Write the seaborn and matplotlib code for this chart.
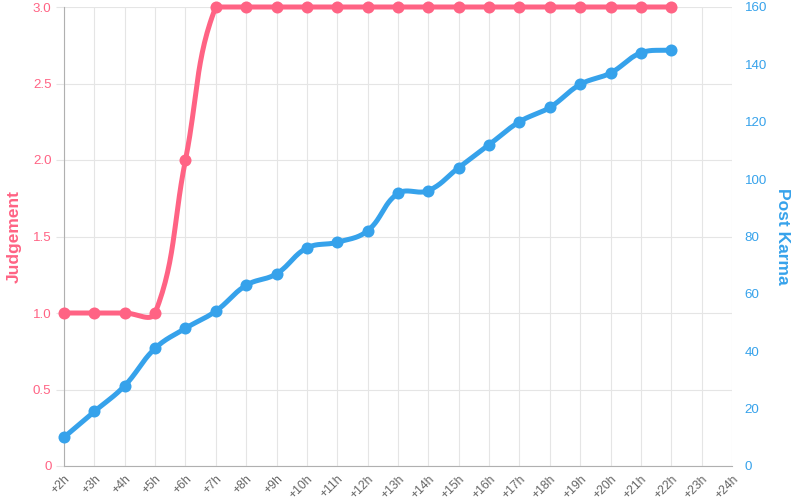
import numpy as np
import pandas as pd
import matplotlib
matplotlib.use("Agg")
import matplotlib.pyplot as plt
import seaborn as sns

labels = [f"+{h}h" for h in range(2, 25)]
judgement = [1, 1, 1, 1, 2, 3, 3, 3, 3, 3, 3, 3, 3, 3, 3, 3, 3, 3, 3, 3, 3]
karma = [10, 19, 28, 41, 48, 54, 63, 67, 76, 78, 82, 95, 96, 104, 112, 120, 125, 133, 137, 144, 145]

PINK = "#ff6384"
BLUE = "#36a2eb"
GRID = "#e5e5e5"
AXIS = "#b0b0b0"

sns.set_style("white")
plt.rcParams["font.family"] = ["Liberation Sans", "DejaVu Sans"]

fig = plt.figure(figsize=(8, 5), dpi=100)
ax = fig.add_axes([0.08, 0.068, 0.835, 0.918])
ax2 = ax.twinx()

XMAX = len(labels) - 1
W_PX, H_PX = 668.0, 459.0


def spline(xs, ys, ymin, ymax, tension=0.4, n=30):
    # Chart.js-style bezier in pixel space
    px = np.array(xs, float) / XMAX * W_PX
    py = (np.array(ys, float) - ymin) / (ymax - ymin) * H_PX
    m = len(px)
    cps = []
    for i in range(m):
        p0 = (px[max(i - 1, 0)], py[max(i - 1, 0)])
        p1 = (px[i], py[i])
        p2 = (px[min(i + 1, m - 1)], py[min(i + 1, m - 1)])
        d01 = np.hypot(p1[0] - p0[0], p1[1] - p0[1])
        d12 = np.hypot(p2[0] - p1[0], p2[1] - p1[1])
        s01 = d01 / (d01 + d12) if d01 + d12 else 0
        s12 = d12 / (d01 + d12) if d01 + d12 else 0
        fa, fb = tension * s01, tension * s12
        prev = [p1[0] - fa * (p2[0] - p0[0]), p1[1] - fa * (p2[1] - p0[1])]
        nxt = [p1[0] + fb * (p2[0] - p0[0]), p1[1] + fb * (p2[1] - p0[1])]
        for c in (prev, nxt):
            c[0] = min(max(c[0], 0), W_PX)
            c[1] = min(max(c[1], 0), H_PX)
        cps.append((prev, nxt))
    t = np.linspace(0, 1, n)[:, None]
    segs = []
    for i in range(m - 1):
        P0 = np.array([px[i], py[i]])
        P1 = np.array(cps[i][1])
        P2 = np.array(cps[i + 1][0])
        P3 = np.array([px[i + 1], py[i + 1]])
        b = ((1 - t) ** 3) * P0 + 3 * ((1 - t) ** 2) * t * P1 + 3 * (1 - t) * t ** 2 * P2 + t ** 3 * P3
        segs.append(b if i == 0 else b[1:])
    c = np.vstack(segs)
    return c[:, 0] / W_PX * XMAX, c[:, 1] / H_PX * (ymax - ymin) + ymin


xs = np.arange(len(judgement))
jx, jy = spline(xs, judgement, 0, 3)
kx, ky = spline(xs, karma, 0, 160)

df_j = pd.DataFrame({"x": jx, "y": jy})
df_k = pd.DataFrame({"x": kx, "y": ky})

sns.lineplot(data=df_j, x="x", y="y", ax=ax, color=PINK, lw=3.6, sort=False, estimator=None, clip_on=False)
sns.scatterplot(x=xs, y=judgement, ax=ax, color=PINK, s=75, edgecolor=PINK, linewidth=0, clip_on=False, zorder=5)
sns.lineplot(data=df_k, x="x", y="y", ax=ax2, color=BLUE, lw=3.6, sort=False, estimator=None, clip_on=False)
sns.scatterplot(x=xs, y=karma, ax=ax2, color=BLUE, s=75, edgecolor=BLUE, linewidth=0, clip_on=False, zorder=5)

ax.set_xlim(0, XMAX)
ax.set_ylim(0, 3)
ax2.set_ylim(0, 160)

ax.set_xticks(range(len(labels)))
ax.set_xticklabels(labels, rotation=45, ha="right", va="top", rotation_mode="anchor", color="#666666", fontsize=8.8)
ax.set_yticks(np.arange(0, 3.01, 0.5))
ax.set_yticklabels([f"{v:.1f}" if v else "0" for v in np.arange(0, 3.01, 0.5)], color=PINK, fontsize=9.6)
ax2.set_yticks(range(0, 161, 20))
ax2.set_yticklabels([str(v) for v in range(0, 161, 20)], color=BLUE, fontsize=9.6)

ax.grid(True, color=GRID, lw=0.8)
ax.set_axisbelow(True)
ax2.grid(False)

ax.tick_params(axis="y", length=6, color=GRID, pad=3)
ax.tick_params(axis="x", length=4, color=GRID, pad=1)
ax2.tick_params(axis="y", length=0, pad=9)

for s in ["top", "right"]:
    ax.spines[s].set_visible(False)
    ax2.spines[s].set_visible(False)
ax.spines["left"].set_color(AXIS)
ax.spines["bottom"].set_color(AXIS)
ax2.spines["left"].set_visible(False)
ax2.spines["bottom"].set_visible(False)

ax.set_xlabel("")
ax.set_ylabel("Judgement", color=PINK, fontsize=12.5, fontweight="bold", labelpad=8)
ax2.set_ylabel("Post Karma", color=BLUE, fontsize=12.5, fontweight="bold", rotation=270, labelpad=17)

fig.savefig("out.png", dpi=100)
